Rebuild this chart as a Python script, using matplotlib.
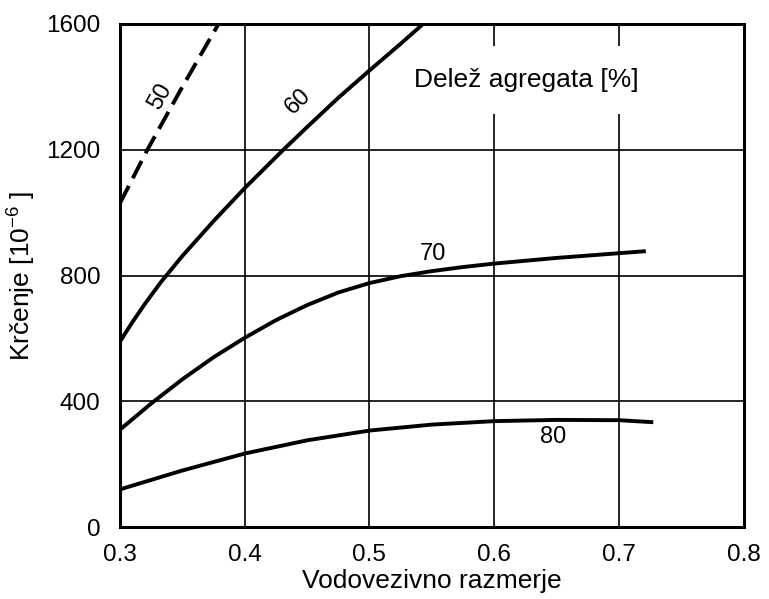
import numpy as np
import matplotlib.pyplot as plt

plt.rcParams['font.family'] = ['Liberation Sans', 'DejaVu Sans']
plt.rcParams['mathtext.fontset'] = 'custom'
plt.rcParams['mathtext.rm'] = 'Liberation Sans'

# krivulje odčitane z grafa: vodovezivno razmerje -> krčenje [10^-6]
x50 = [0.300, 0.322, 0.350, 0.379]
y50 = [1030, 1200, 1400, 1600]

x60 = [0.300, 0.310, 0.320, 0.333, 0.350, 0.375, 0.400, 0.431, 0.450, 0.475, 0.500, 0.525, 0.543]
y60 = [590, 652, 710, 780, 862, 973, 1078, 1200, 1272, 1365, 1452, 1537, 1600]

x70 = [0.300, 0.325, 0.350, 0.375, 0.400, 0.425, 0.450, 0.475, 0.500, 0.525, 0.550, 0.575, 0.600, 0.650, 0.700, 0.720]
y70 = [310, 393, 470, 540, 602, 658, 706, 746, 776, 798, 814, 827, 838, 856, 871, 877]

x80 = [0.300, 0.350, 0.400, 0.450, 0.500, 0.550, 0.600, 0.650, 0.700, 0.726]
y80 = [120, 180, 234, 276, 307, 326, 337, 341, 340, 334]

# oznake krivulj (delež agregata v %)
labels = ['50', '60', '70', '80']
label_x = [0.332, 0.443, 0.551, 0.647]
label_y = [1368, 1352, 869, 288]
label_rot = [61, 44, 0, 0]

xticks = [0.3, 0.4, 0.5, 0.6, 0.7, 0.8]
xticklabels = ['0.3', '0.4', '0.5', '0.6', '0.7', '0.8']
yticks = [0, 400, 800, 1200, 1600]

fig = plt.figure(figsize=(7.69, 5.99), dpi=100)
ax = fig.add_axes([0.156, 0.120, 0.811, 0.840])

lw = 2.8
ax.plot(x50, y50, color='black', lw=lw, dashes=(5, 2.2), zorder=3)
ax.plot(x60, y60, color='black', lw=lw, zorder=3)
ax.plot(x70, y70, color='black', lw=lw, zorder=3)
ax.plot(x80, y80, color='black', lw=lw, zorder=3)

for t, lx, ly, r in zip(labels, label_x, label_y, label_rot):
    ax.text(lx, ly, t, fontsize=17, ha='center', va='center', rotation=r, zorder=4)

ax.text(0.626, 1422, 'Delež agregata [%]', fontsize=19, ha='center', va='center',
        zorder=1, bbox=dict(boxstyle='square,pad=0.85', fc='white', ec='none'))

ax.set_xlim(0.3, 0.8)
ax.set_ylim(0, 1600)
ax.set_xticks(xticks)
ax.set_xticklabels(xticklabels)
ax.set_yticks(yticks)
ax.tick_params(length=0, labelsize=17.5)
ax.tick_params(axis='x', pad=12)
ax.tick_params(axis='y', pad=14)
ax.set_axisbelow(True)
ax.grid(True, color='black', lw=1.2)
for s in ax.spines.values():
    s.set_linewidth(2.2)

ax.set_xlabel('Vodovezivno razmerje', fontsize=19, labelpad=2)
ax.set_ylabel('Krčenje [10$^{-6}$ ]', fontsize=19, labelpad=7)

fig.savefig('out.png', dpi=100)
